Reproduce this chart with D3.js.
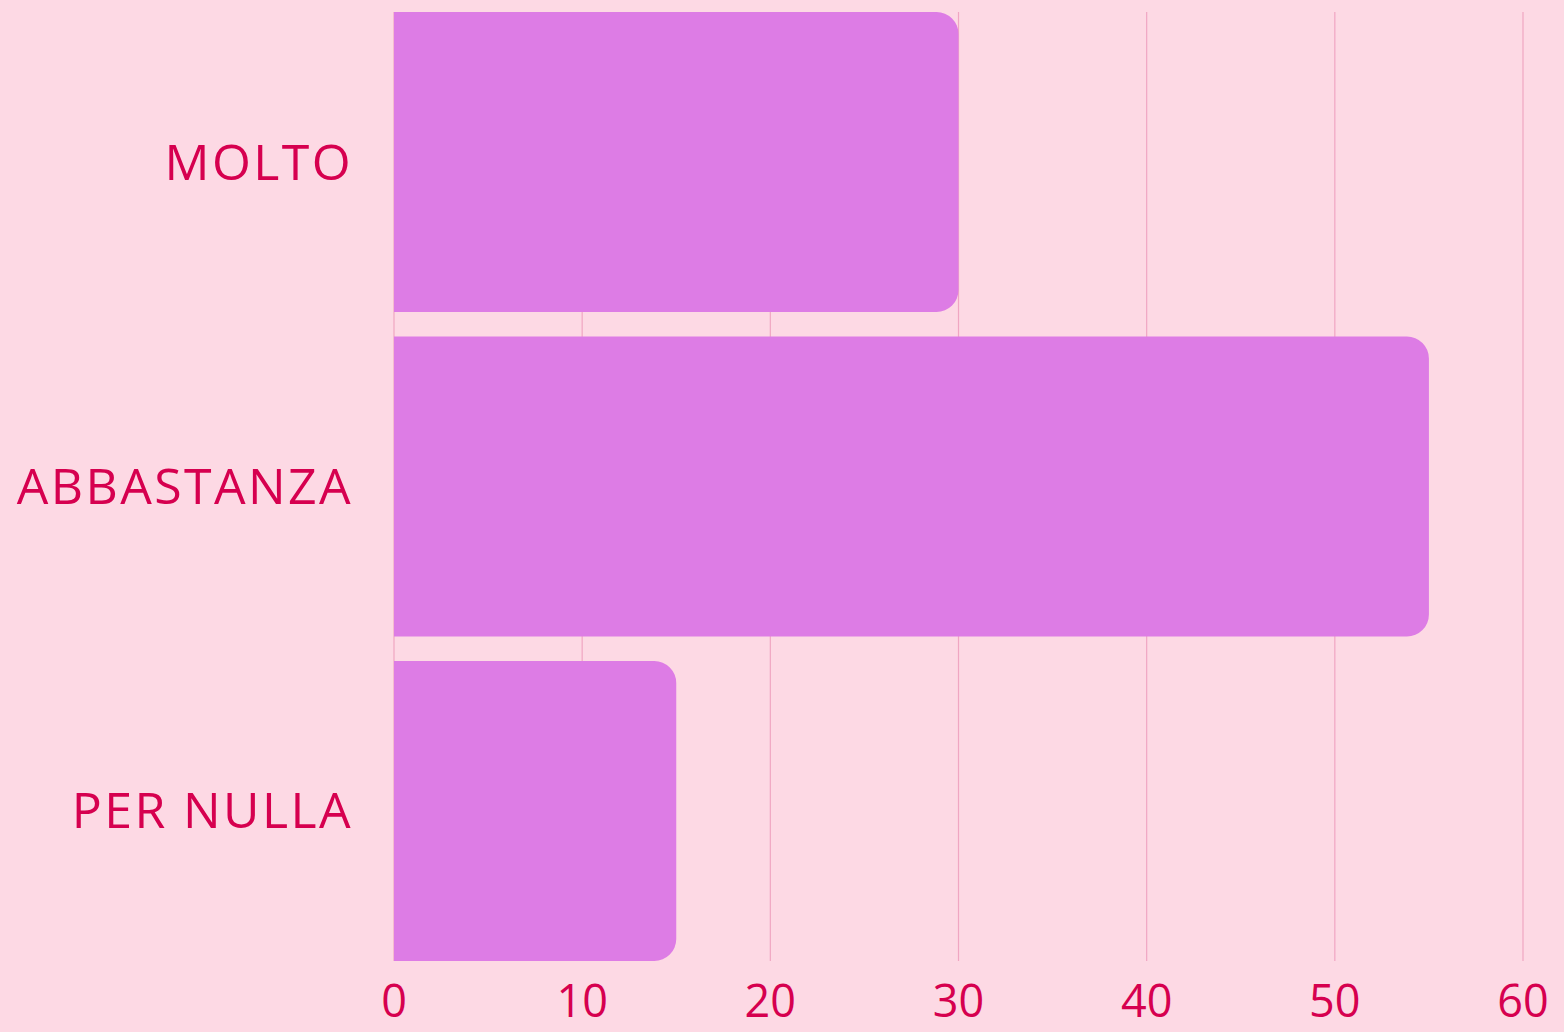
<!DOCTYPE html>
<html>
<head>
<meta charset="utf-8">
<script src="https://cdn.jsdelivr.net/npm/d3@7.9.0/dist/d3.min.js"></script>
<style>
  html, body { margin: 0; padding: 0; background: #fdd9e4; }
  svg { display: block; }
  text { font-family: "Open Sans", "Noto Sans", sans-serif; fill: #d6004f; }
</style>
</head>
<body>
<svg id="chart"></svg>
<script>
const categories = ['MOLTO', 'ABBASTANZA', 'PER NULLA'];
const values = [30, 55, 15];
const tickValues = [0, 10, 20, 30, 40, 50, 60];

const width = 1564, height = 1032;
const margin = { top: 12, right: 41, bottom: 71, left: 394 };

const svg = d3.select('#chart').attr('width', width).attr('height', height);

const x = d3.scaleLinear()
    .domain([0, 60])
    .range([margin.left, width - margin.right]);

const y = d3.scaleBand()
    .domain(categories)
    .range([margin.top, height - margin.bottom])
    .paddingInner(0.0755)
    .paddingOuter(0);

// grid lines
svg.append('g')
    .selectAll('line')
    .data(tickValues)
    .join('line')
    .attr('x1', d => x(d)).attr('x2', d => x(d))
    .attr('y1', margin.top).attr('y2', height - margin.bottom)
    .attr('stroke', '#f0a6c2')
    .attr('stroke-width', 1.2);

// bars with rounded right end
const r = 22;
function barPath(v, cat) {
    const x0 = x(0), x1 = x(v), y0 = y(cat), y1 = y0 + y.bandwidth();
    return `M${x0},${y0} H${x1 - r} A${r},${r} 0 0 1 ${x1},${y0 + r}` +
        ` V${y1 - r} A${r},${r} 0 0 1 ${x1 - r},${y1} H${x0} Z`;
}

svg.append('g')
    .selectAll('path')
    .data(categories)
    .join('path')
    .attr('d', (c, i) => barPath(values[i], c))
    .attr('fill', '#dd7ce5');

// y labels
svg.append('g')
    .selectAll('text')
    .data(categories)
    .join('text')
    .attr('x', 353)
    .attr('y', c => y(c) + y.bandwidth() / 2)
    .attr('dy', '0.35em')
    .attr('text-anchor', 'end')
    .attr('font-size', 50)
    .attr('letter-spacing', 2.4)
    .text(c => c);

// x tick labels
svg.append('g')
    .selectAll('text')
    .data(tickValues)
    .join('text')
    .attr('x', d => x(d))
    .attr('y', 1017)
    .attr('text-anchor', 'middle')
    .attr('font-size', 45)
    .text(d => d);
</script>
</body>
</html>
